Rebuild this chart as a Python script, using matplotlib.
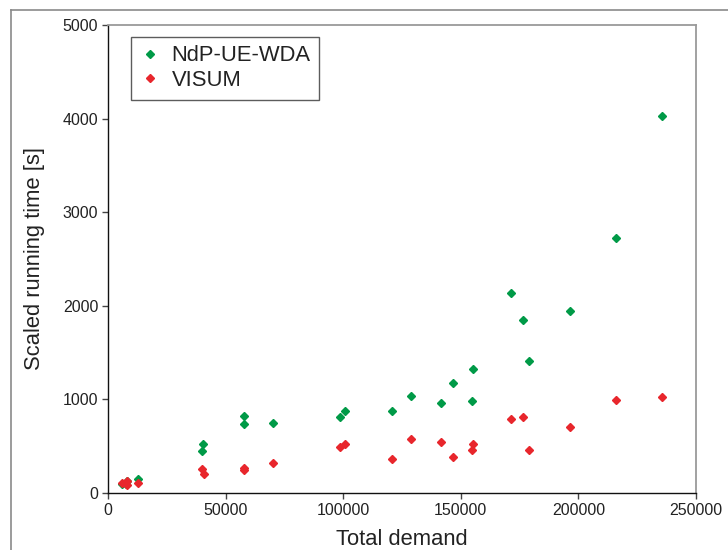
# -*- coding: utf-8 -*-
"""
Scaled running time against total demand, NdP-UE-WDA vs VISUM.
"""
import matplotlib
matplotlib.use('Agg')
import matplotlib.pyplot as plt
from matplotlib.lines import Line2D

# %% DATA
demand_wda = [5800, 7500, 8000, 12900, 40100, 40500, 57800, 57800, 70000,
              98600, 100800, 120900, 129000, 141600, 146800, 154600, 155200,
              171300, 176600, 179100, 196300, 216000, 235500]
time_wda = [100, 95, 130, 153, 452, 527, 734, 823, 748,
            815, 876, 879, 1033, 958, 1172, 983, 1330,
            2140, 1852, 1407, 1944, 2724, 4031]

demand_visum = [5800, 7950, 7950, 12900, 40100, 40700, 57800, 58000, 70150,
                98600, 100800, 120900, 129000, 141600, 146800, 154600, 155200,
                171300, 176600, 179100, 196300, 216000, 235500]
time_visum = [103, 125, 89, 110, 260, 203, 250, 262, 324,
              488, 523, 363, 573, 541, 388, 456, 523,
              790, 815, 456, 709, 997, 1026]

GREEN = '#009a47'
RED = '#e8262c'

# %% PLOT
plt.rcParams['font.family'] = ['Liberation Sans', 'DejaVu Sans']

fig = plt.figure(figsize=(7.28, 5.5), dpi=100)
ax = fig.add_axes([108/728, 1-493/550, 588/728, 468/550])

ax.plot(demand_wda, time_wda, linestyle='none', marker='D', markersize=4.4,
        color=GREEN, label='NdP-UE-WDA')
ax.plot(demand_visum, time_visum, linestyle='none', marker='D',
        markersize=4.4, color=RED, label='VISUM')

ax.set_xlim(0, 250000)
ax.set_ylim(0, 5000)
ax.set_xticks([0, 50000, 100000, 150000, 200000, 250000])
ax.set_yticks([0, 1000, 2000, 3000, 4000, 5000])
ax.tick_params(direction='out', length=4, width=1, labelsize=11.5,
               labelcolor='#222222', color='#444444', pad=3)

for side in ['left', 'bottom']:
    ax.spines[side].set_color('#111111')
    ax.spines[side].set_linewidth(1.0)
for side in ['top', 'right']:
    ax.spines[side].set_color('#9a9a9a')
    ax.spines[side].set_linewidth(1.3)

ax.set_xlabel('Total demand', fontsize=15.8, color='#222222', labelpad=8)
ax.set_ylabel('Scaled running time [s]', fontsize=15.8, color='#222222',
              labelpad=13)

leg = ax.legend(loc='upper left', bbox_to_anchor=(0.039, 0.975),
                fontsize=15.8, frameon=True, fancybox=False,
                handletextpad=0.55, borderpad=0.4, handlelength=0.9,
                labelspacing=0.15, borderaxespad=0)
leg.get_frame().set_edgecolor('#333333')
leg.get_frame().set_linewidth(1.0)
for txt in leg.get_texts():
    txt.set_color('#222222')

# outer grey frame (only left and top visible)
fig.add_artist(Line2D([11/728, 11/728], [0, 1-10/550],
                      transform=fig.transFigure, color='#8a8a8a', lw=1.2))
fig.add_artist(Line2D([11/728, 1], [1-10/550, 1-10/550],
                      transform=fig.transFigure, color='#8a8a8a', lw=1.2))

plt.savefig('out.png', dpi=100)
